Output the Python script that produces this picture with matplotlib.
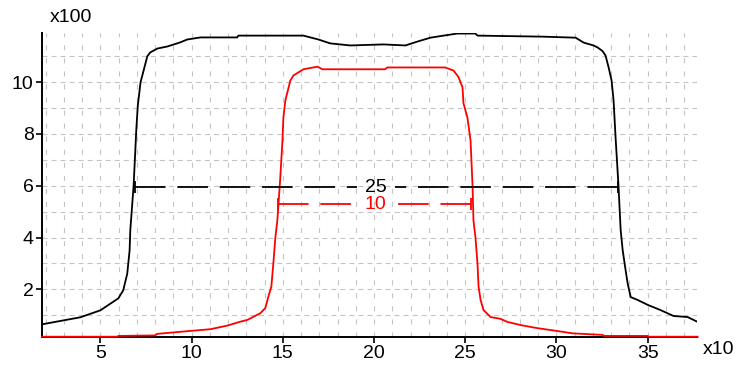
import matplotlib.pyplot as plt
import numpy as np

plt.rcParams['font.family'] = ['Liberation Sans', 'DejaVu Sans']
plt.rcParams['lines.scale_dashes'] = False

# black trace (x10, x100)
black_x = [1.81, 3.9, 5.0, 5.98, 6.25, 6.47, 6.6, 6.64, 6.82, 6.97, 7.05, 7.2,
           7.35, 7.57, 7.73, 8.12, 8.67, 9.38, 9.76, 10.48, 12.5, 12.56, 16.13,
           16.95, 17.6, 18.7, 20.52, 21.72, 22.38, 23.09, 23.81, 24.57, 25.56,
           25.67, 29.24, 31.05, 31.49, 32.03, 32.26, 32.53, 32.69, 32.86, 33.02,
           33.13, 33.24, 33.4, 33.52, 33.63, 33.79, 33.9, 34.07, 34.45, 35.0,
           35.7, 36.42, 37.19, 37.74]
black_y = [0.65, 0.92, 1.19, 1.65, 1.96, 2.6, 3.5, 4.3, 6.0, 8.2, 9.1, 10.0,
           10.4, 11.0, 11.15, 11.3, 11.38, 11.54, 11.65, 11.73, 11.73, 11.8, 11.8,
           11.65, 11.5, 11.42, 11.46, 11.42, 11.57, 11.72, 11.8, 11.88, 11.88,
           11.8, 11.76, 11.72, 11.53, 11.42, 11.34, 11.2, 11.03, 10.57, 10.07,
           9.3, 7.87, 6.0, 4.28, 3.51, 2.74, 2.24, 1.70, 1.59, 1.4,
           1.2, 0.97, 0.93, 0.74]

# red trace
red_x = [1.8, 5.9, 6.0, 8.0, 8.12, 9.54, 11.03, 11.96, 12.67, 13.06, 13.77,
         14.04, 14.2, 14.37, 14.48, 14.59, 14.7, 14.85, 14.98, 15.03, 15.14,
         15.41, 15.58, 16.13, 16.9, 17.17, 20.6, 20.73, 23.9, 24.36, 24.63,
         24.85, 24.9, 25.12, 25.29, 25.4, 25.45, 25.56, 25.67, 25.73, 25.84,
         26.0, 26.39, 26.93, 27.32, 28.03, 28.96, 29.95, 30.88, 32.53, 32.6,
         35.0, 35.05, 37.74]
red_y = [0.17, 0.17, 0.2, 0.22, 0.28, 0.37, 0.46, 0.6, 0.75, 0.82, 1.08,
         1.28, 1.7, 2.1, 3.0, 4.0, 4.66, 6.2, 7.75, 8.63, 9.3,
         10.06, 10.26, 10.5, 10.6, 10.5, 10.5, 10.57, 10.57, 10.45, 10.2,
         9.8, 9.2, 8.63, 7.75, 6.0, 4.66, 4.0, 3.0, 2.1, 1.59,
         1.2, 0.93, 0.86, 0.74, 0.62, 0.5, 0.4, 0.3, 0.24, 0.2,
         0.2, 0.17, 0.17]

# width markers: level, start, end, label
width_level = [5.95, 5.29]
width_start = [6.9, 14.76]
width_end = [33.35, 25.34]
width_label = ['25', '10']
colors = ['black', '#ff0000']

x_ticks = [5, 10, 15, 20, 25, 30, 35]
y_ticks = [2, 4, 6, 8, 10]

fig = plt.figure(figsize=(7.4, 3.69), dpi=100)
ax = fig.add_axes([0.0568, 0.0875, 0.885, 0.823])
ax.set_xlim(1.8, 37.7)
ax.set_ylim(0.17, 11.9)

# grid every unit
grid_c = '#c4c4c4'
for gx in np.arange(2, 38):
    ax.axvline(gx, color=grid_c, lw=0.8, dashes=(3.6, 5.8), zorder=0)
for gy in np.arange(1, 12):
    ax.axhline(gy, color=grid_c, lw=0.8, dashes=(3.6, 2.9), zorder=0)

ax.plot(black_x, black_y, color=colors[0], lw=1.3, zorder=3)
ax.plot(red_x, red_y, color=colors[1], lw=1.3, zorder=4, clip_on=False)

gap = 1.05  # half width of the break around the label
for lev, x0, x1, lab, c in zip(width_level, width_start, width_end, width_label, colors):
    mid = (x0 + x1) / 2
    ax.plot([x0, mid - gap], [lev, lev], color=c, lw=1.3, dashes=(22, 8.5), zorder=5)
    ax.plot([x1, mid + gap], [lev, lev], color=c, lw=1.3, dashes=(22, 8.5), zorder=5)
    ax.plot([x0, x1], [lev, lev], color=c, ls='none', marker='|', ms=9,
            mew=1.3, zorder=5)
    ax.text(mid, lev, lab, color=c, fontsize=14, ha='center',
            va='center', zorder=6)

for s in ['top', 'right']:
    ax.spines[s].set_visible(False)
for s in ['left', 'bottom']:
    ax.spines[s].set_linewidth(1.4)
    ax.spines[s].set_zorder(2)

ax.set_xticks(x_ticks)
ax.set_yticks(y_ticks)
ax.tick_params(labelsize=14, length=4, width=1.2, pad=2)

fig.text(50 / 740, 1 - 18 / 369, 'x100', fontsize=14, va='center', ha='left')
fig.text(703 / 740, 1 - 350 / 369, 'x10', fontsize=14, va='center', ha='left')

fig.savefig('out.png', dpi=100)
